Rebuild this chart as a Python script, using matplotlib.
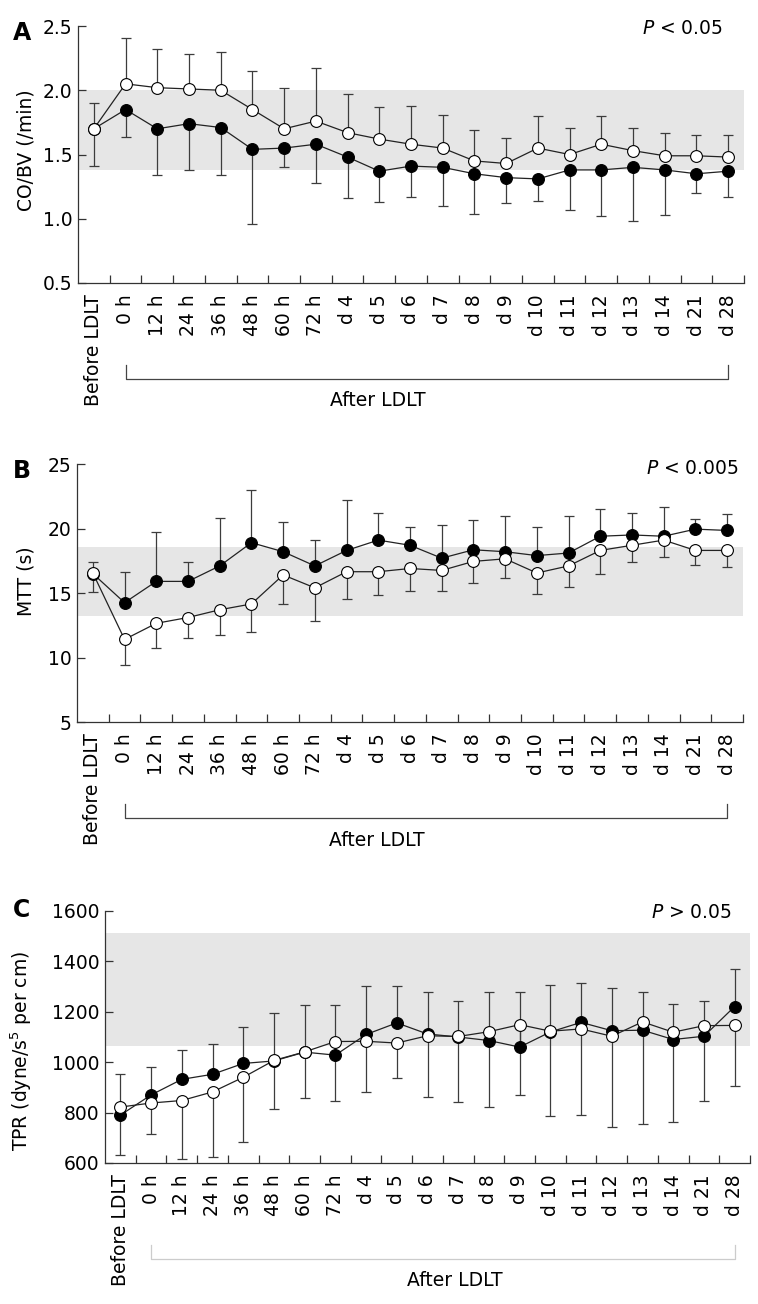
import numpy as np
import matplotlib
matplotlib.use('Agg')
import matplotlib.pyplot as plt
from matplotlib.transforms import blended_transform_factory

plt.rcParams['font.family'] = ['DejaVu Sans']
plt.rcParams['mathtext.fontset'] = 'dejavusans'

# 时间点
labels = ['Before LDLT', '0 h', '12 h', '24 h', '36 h', '48 h', '60 h', '72 h',
          'd 4', 'd 5', 'd 6', 'd 7', 'd 8', 'd 9', 'd 10', 'd 11', 'd 12',
          'd 13', 'd 14', 'd 21', 'd 28']

# A: CO/BV, 空心组误差向上, 实心组误差向下
co_open = [1.70, 2.05, 2.02, 2.01, 2.00, 1.85, 1.70, 1.76, 1.67, 1.62, 1.58,
           1.55, 1.45, 1.43, 1.55, 1.50, 1.58, 1.53, 1.49, 1.49, 1.48]
co_open_sd = [0.20, 0.36, 0.30, 0.27, 0.30, 0.30, 0.32, 0.41, 0.30, 0.25, 0.30,
              0.26, 0.24, 0.20, 0.25, 0.21, 0.22, 0.18, 0.18, 0.16, 0.17]
co_filled = [1.70, 1.85, 1.70, 1.74, 1.71, 1.54, 1.55, 1.58, 1.48, 1.37, 1.41,
             1.40, 1.35, 1.32, 1.31, 1.38, 1.38, 1.40, 1.38, 1.35, 1.37]
co_filled_sd = [0.29, 0.21, 0.36, 0.36, 0.37, 0.58, 0.15, 0.30, 0.32, 0.24, 0.24,
                0.30, 0.31, 0.20, 0.17, 0.31, 0.36, 0.42, 0.35, 0.15, 0.20]

# B: MTT, 实心组误差向上, 空心组误差向下
mtt_filled = [16.5, 14.25, 15.9, 15.9, 17.1, 18.9, 18.2, 17.1, 18.3, 19.1, 18.7,
              17.7, 18.35, 18.2, 17.9, 18.1, 19.4, 19.5, 19.4, 19.95, 19.85]
mtt_filled_sd = [0.9, 2.4, 3.8, 1.5, 3.7, 4.05, 2.3, 2.0, 3.9, 2.1, 1.45,
                 2.6, 2.3, 2.8, 2.2, 2.85, 2.1, 1.7, 2.3, 0.8, 1.25]
mtt_open = [16.55, 11.4, 12.65, 13.1, 13.7, 14.15, 16.4, 15.4, 16.65, 16.65, 16.9,
            16.75, 17.45, 17.65, 16.55, 17.1, 18.3, 18.7, 19.1, 18.3, 18.3]
mtt_open_sd = [1.45, 2.0, 1.9, 1.55, 1.95, 2.15, 2.25, 2.55, 2.1, 1.8, 1.75,
               1.6, 1.65, 1.5, 1.65, 1.6, 1.85, 1.3, 1.3, 1.15, 1.25]

# C: TPR, 实心组误差向上, 空心组误差向下
tpr_filled = [790, 870, 932, 952, 995, 1005, 1040, 1028, 1110, 1156, 1112,
              1100, 1086, 1060, 1120, 1158, 1125, 1127, 1090, 1103, 1221]
tpr_filled_sd = [162, 111, 118, 122, 145, 192, 188, 200, 194, 146, 165,
                 144, 194, 217, 187, 158, 169, 153, 141, 138, 148]
tpr_open = [822, 838, 848, 882, 940, 1007, 1041, 1082, 1083, 1076, 1105,
            1102, 1121, 1149, 1123, 1132, 1103, 1160, 1119, 1145, 1146]
tpr_open_sd = [190, 123, 231, 260, 255, 193, 185, 235, 203, 138, 245,
               258, 297, 280, 336, 342, 361, 405, 355, 298, 240]

W, H = 758, 1304
fig = plt.figure(figsize=(W / 100, H / 100), dpi=100)
FS = 13.5
x = np.arange(len(labels))


def make_ax(l, r, t, b):
    return fig.add_axes([l / W, 1 - b / H, (r - l) / W, (b - t) / H])


def draw_panel(ax, box, filled, filled_sd, filled_up, opened, opened_sd,
               ylim, yticks, yfmt, band, ylabel, ylab_xy, ptext, pxy,
               after_x, bracket_color):
    l, r, t, b = box
    axh = b - t
    zeros = np.zeros(len(x))
    fsd = np.array(filled_sd)
    osd = np.array(opened_sd)
    if filled_up:
        ferr = [zeros, fsd]
        oerr = [osd, zeros]
    else:
        ferr = [fsd, zeros]
        oerr = [zeros, osd]

    ax.axhspan(band[0], band[1], color='#e6e6e6', lw=0, zorder=0)
    ax.errorbar(x, filled, yerr=ferr, fmt='none', ecolor='#3c3c3c',
                elinewidth=0.9, capsize=3.5, capthick=0.9, zorder=2)
    ax.errorbar(x, opened, yerr=oerr, fmt='none', ecolor='#3c3c3c',
                elinewidth=0.9, capsize=3.5, capthick=0.9, zorder=2)
    ax.plot(x, filled, '-', color='#222222', lw=0.9, zorder=3)
    ax.plot(x, opened, '-', color='#222222', lw=0.9, zorder=3)
    ax.plot(x, filled, 'o', ms=8.5, mfc='black', mec='black', mew=0.8, zorder=4)
    ax.plot(x, opened, 'o', ms=8.5, mfc='white', mec='black', mew=0.8, zorder=5)

    ax.set_xlim(-0.5, 20.5)
    ax.set_ylim(*ylim)
    ax.set_yticks(yticks)
    ax.set_yticklabels([yfmt % v for v in yticks], fontsize=FS)
    ax.set_xticks(x)
    ax.set_xticklabels(labels, rotation=90, fontsize=FS)
    ax.set_xticks(np.arange(0.5, 21, 1), minor=True)
    ax.tick_params(axis='x', which='major', length=0, pad=8)
    ax.tick_params(axis='x', which='minor', direction='in', length=6,
                   width=0.9, color='#333333')
    ax.tick_params(axis='y', direction='in', length=6, width=0.9,
                   color='#333333', pad=4)
    for s in ['top', 'right']:
        ax.spines[s].set_visible(False)
    for s in ['left', 'bottom']:
        ax.spines[s].set_color('#333333')
        ax.spines[s].set_linewidth(0.9)

    # 纵轴标题: 给出右边缘位置
    ax.set_ylabel(ylabel, fontsize=FS)
    ax.yaxis.set_label_coords((ylab_xy[0] - l) / (r - l), 1 - (ylab_xy[1] - t) / axh)
    ax.text((pxy[0] - l) / (r - l), 1 - (pxy[1] - t) / axh, ptext,
            transform=ax.transAxes, ha='right', va='center', fontsize=FS)

    # After LDLT 括号
    tr = blended_transform_factory(ax.transData, ax.transAxes)
    yb = -96 / axh
    ye = -82 / axh
    ax.plot([1, 1, 20, 20], [ye, yb, yb, ye], color=bracket_color, lw=0.9,
            transform=tr, clip_on=False)
    ax.text(after_x, -118 / axh, 'After LDLT', transform=tr, ha='center',
            va='center', fontsize=FS)


boxA = (78, 744, 26, 283)
axA = make_ax(*boxA)
draw_panel(axA, boxA, co_filled, co_filled_sd, False, co_open, co_open_sd,
           (0.5, 2.5), [0.5, 1.0, 1.5, 2.0, 2.5], '%.1f', (1.38, 2.0),
           'CO/BV (/min)', (35, 150), r'$P$ < 0.05', (723, 29), 8.95, '#444444')

boxB = (77, 743, 464, 722)
axB = make_ax(*boxB)
draw_panel(axB, boxB, mtt_filled, mtt_filled_sd, True, mtt_open, mtt_open_sd,
           (5, 25), [5, 10, 15, 20, 25], '%d', (13.2, 18.6),
           'MTT (s)', (35, 581), r'$P$ < 0.005', (739, 468), 8.95, '#444444')

boxC = (105, 750, 911, 1163)
axC = make_ax(*boxC)
draw_panel(axC, boxC, tpr_filled, tpr_filled_sd, True, tpr_open, tpr_open_sd,
           (600, 1600), [600, 800, 1000, 1200, 1400, 1600], '%d', (1064, 1511),
           r'TPR (dyne/s$^5$ per cm)', (34, 1051), r'$P$ > 0.05', (732, 912),
           10.9, '#cccccc')

for letter, yy in [('A', 33), ('B', 471), ('C', 910)]:
    fig.text(13 / W, 1 - yy / H, letter, fontsize=17, fontweight='bold',
             ha='left', va='center')

plt.savefig('out.png', dpi=100)
